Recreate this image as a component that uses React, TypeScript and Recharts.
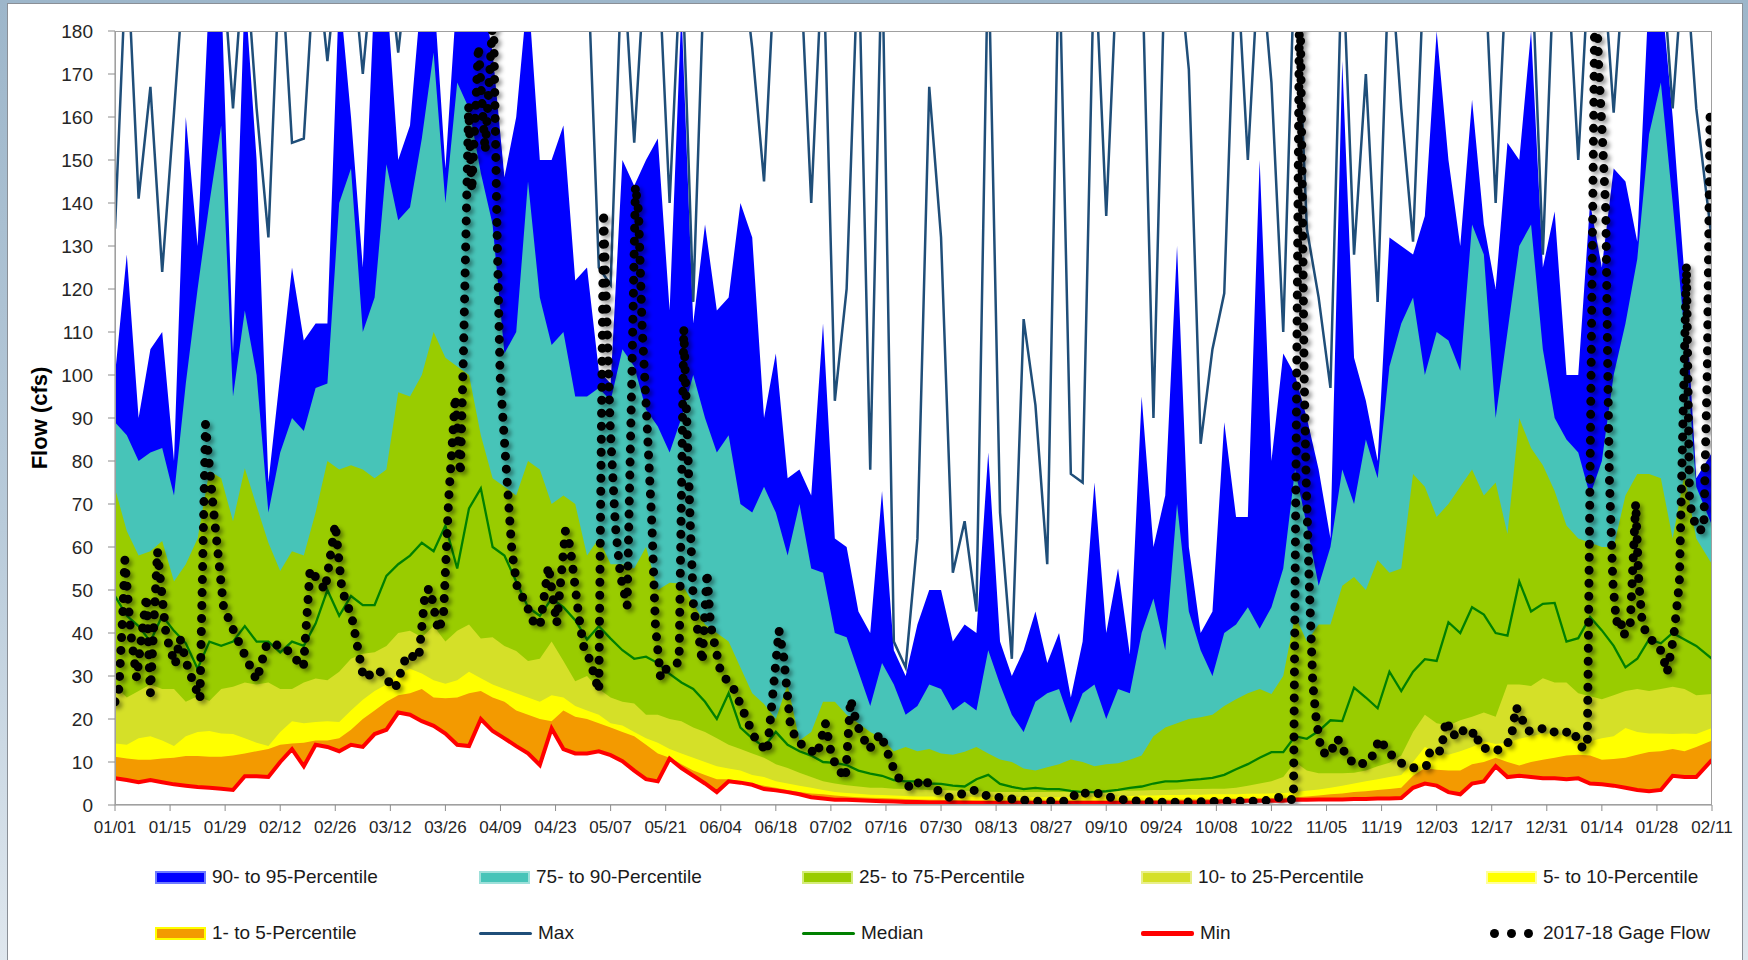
import React from "react";
import { Area, ComposedChart, Line, XAxis, YAxis } from "recharts";

// tick labels, one every 14 days from 01/01 to 02/11 of the next year
const xLabels = [
  "01/01", "01/15", "01/29", "02/12", "02/26", "03/12", "03/26", "04/09", "04/23", "05/07",
  "05/21", "06/04", "06/18", "07/02", "07/16", "07/30", "08/13", "08/27", "09/10", "09/24",
  "10/08", "10/22", "11/05", "11/19", "12/03", "12/17", "12/31", "01/14", "01/28", "02/11",
];
const yTicks = [0, 10, 20, 30, 40, 50, 60, 70, 80, 90, 100, 110, 120, 130, 140, 150, 160, 170, 180];

// percentile statistics, sampled every 3 days (day 0 .. 406)
const maxFlow = [
  134, 200, 141, 167, 124, 161, 200, 200, 200, 200,
  162, 200, 162, 132, 200, 154, 155, 200, 173, 200,
  200, 170, 200, 200, 175, 200, 200, 200, 200, 200,
  200, 200, 200, 200, 200, 200, 200, 200, 200, 200,
  200, 125, 121, 200, 154, 200, 200, 140, 200, 117,
  200, 200, 200, 200, 176, 145, 200, 200, 200, 140,
  200, 94, 120, 200, 78, 200, 38, 32, 62, 167,
  132, 54, 66, 45, 200, 68, 34, 113, 93, 56,
  200, 77, 75, 200, 137, 200, 200, 200, 90, 200,
  200, 171, 84, 106, 119, 200, 150, 200, 168, 110,
  200, 134, 118, 97, 200, 128, 170, 117, 200, 162,
  131, 200, 200, 200, 200, 200, 200, 140, 200, 200,
  200, 128, 200, 200, 150, 200, 200, 161, 200, 200,
  200, 200, 162, 200, 162, 131,
];
const p95 = [
  100, 128, 90, 106, 110, 80, 160, 130, 190, 190,
  105, 190, 150, 75, 100, 125, 108, 112, 112, 190,
  160, 125, 190, 190, 150, 158, 190, 190, 148, 190,
  190, 190, 175, 146, 160, 190, 150, 150, 158, 122,
  125, 101, 98, 150, 144, 150, 155, 115, 185, 112,
  135, 115, 118, 140, 132, 90, 105, 76, 78, 72,
  112, 62, 60, 45, 40, 73, 36, 30, 42, 50,
  50, 38, 42, 40, 82, 38, 30, 36, 45, 33,
  40, 25, 38, 75, 40, 55, 35, 95, 60, 72,
  130, 60, 40, 45, 89, 67, 67, 150, 80, 105,
  100, 90, 78, 62, 173, 104, 94, 80, 132, 130,
  128, 137, 180, 150, 130, 164, 135, 120, 154, 150,
  180, 125, 138, 100, 100, 140, 125, 148, 145, 131,
  190, 190, 160, 123, 76, 82,
];
const p90 = [
  89, 86, 80, 82, 83, 72, 98, 120, 140, 158,
  95, 115, 100, 68, 82, 90, 87, 97, 98, 140,
  148, 110, 118, 149, 136, 139, 155, 175, 140, 168,
  162, 147, 135, 105, 110, 145, 118, 107, 110, 95,
  95, 97, 94, 106, 102, 92, 88, 82, 90, 100,
  90, 82, 86, 70, 68, 74, 68, 58, 70, 55,
  54, 40, 39, 31, 23, 33, 28, 21, 23, 28,
  27, 22, 24, 22, 36, 28, 21, 17, 24, 26,
  27, 19, 26, 28, 20, 27, 26, 40, 48, 36,
  70, 45, 36, 30, 40, 42, 46, 41, 46, 55,
  78, 65, 51, 60, 78, 70, 85, 76, 102, 112,
  118, 100, 110, 108, 101, 135, 128, 90, 110, 130,
  135, 106, 90, 85, 82, 72, 80, 100, 112, 127,
  156, 168, 140, 110, 74, 65,
];
const p75 = [
  73.6, 63.7, 58, 59, 61.4, 52, 56, 62, 77.7, 76,
  66, 78.3, 69.5, 61, 54.4, 59, 58, 68, 80, 78,
  79, 78, 76, 78, 96, 95, 100, 110, 104, 102,
  100, 86, 76, 74, 72, 80, 78, 70, 72, 70,
  58, 62, 56, 56, 55, 60, 50, 51.7, 51.5, 47,
  42, 40, 38, 32, 26, 23.5, 20, 28, 15, 17,
  24, 24, 21, 19, 17, 15.5, 12.5, 13.5, 12.5, 13,
  12, 11.7, 12.4, 13.5, 12, 10.6, 10, 8.5, 8, 8.8,
  9.5, 10.6, 10, 9, 9.5, 9.7, 10.5, 11.5, 16, 18,
  19, 20, 20.4, 21, 23, 24.6, 26, 27, 25.8, 30,
  44, 38, 42, 42, 51, 53, 50, 57, 54, 55,
  77, 74, 67, 70, 74, 78, 72, 75, 63, 90,
  83, 79, 73, 65, 62, 61, 60, 60, 72, 77,
  77, 76, 62, 77, 62, 56,
];
const median = [
  48.6, 44, 41.6, 38, 44, 40.5, 37.6, 31.7, 38, 37,
  38, 41.6, 38, 38, 35.5, 38, 37, 42.2, 50, 44,
  48.6, 46.5, 46.5, 53.3, 56, 58, 61, 59, 65, 55,
  69, 73.6, 60, 58, 52, 46, 44, 48, 46, 43,
  38.5, 41.6, 38.7, 36, 34, 34.5, 33, 30.5, 28.5, 27,
  24, 20, 26, 18, 15.5, 13.5, 17, 14, 12.5, 11.5,
  10, 9.8, 9.3, 8, 7.3, 6.8, 5.8, 5.5, 5.5, 5,
  4.9, 4.5, 4.3, 6, 7, 4.9, 4.2, 3.7, 4, 3.7,
  3.7, 3.3, 3, 3, 3.2, 3.5, 4, 4.3, 5, 5.5,
  5.5, 5.8, 6, 6.3, 7, 8.3, 9.5, 11, 12.3, 12.3,
  16, 15.4, 17.2, 19.7, 19.5, 27.3, 25, 22.5, 31, 26.5,
  31, 33.9, 33.5, 42.5, 40, 46, 44.3, 40, 39.4, 52,
  45, 46.8, 47, 38, 38.8, 43.7, 40.6, 37, 32, 34,
  38.5, 37.6, 40, 38.5, 37, 34,
];
const p25 = [
  27.7, 25, 26.5, 28, 27, 27, 24, 25.3, 24.2, 27,
  27.5, 28.5, 28, 28.5, 27, 27, 28.5, 29.4, 29, 31,
  34, 35.2, 35.5, 37, 40, 40.5, 39, 41.6, 38, 40.5,
  42, 38.7, 39, 37, 35.8, 33.5, 34, 38, 33.5, 28.8,
  30, 27, 25, 24, 23.6, 21, 21, 20, 19.5, 18,
  17, 15.5, 14, 13, 12, 11, 9.5, 8.6, 7.5, 6.5,
  5.5, 5, 4.6, 4.3, 4, 4, 3.8, 3.7, 3.6, 3.5,
  3.5, 3.4, 3.3, 3.2, 3.1, 3, 3, 3, 3, 3,
  3, 3, 3.1, 3.2, 3.2, 3.3, 3.3, 3.4, 3.5, 3.5,
  3.6, 3.7, 3.7, 3.8, 3.8, 4, 4.5, 5, 5.5, 6.5,
  10, 8, 7.4, 7.4, 7.4, 7.5, 8, 9, 9.8, 11.5,
  17, 21, 19, 18.5, 19.7, 20.5, 21.5, 20.5, 28, 28,
  27.7, 29.5, 28.5, 28.5, 26, 25.3, 24.6, 25.5, 26.5, 27,
  26.5, 27, 27.5, 27, 25.5, 25.8,
];
const p10 = [
  14.3, 14, 15.5, 16, 15, 13.7, 16, 17, 17.2, 16.6,
  16.5, 15.5, 14.5, 13.7, 17, 19.5, 19, 19.3, 19.5, 19.3,
  22, 24.5, 26.5, 28, 30.5, 31.7, 30.6, 29, 28.2, 29,
  31, 29.5, 28, 27, 26, 25, 24, 25.5, 25, 23,
  22, 21, 19, 18.5, 17, 15.5, 14.5, 13, 12, 11,
  10, 9, 8.5, 8, 7, 6.5, 5.5, 5, 4.5, 4,
  3.5, 3, 2.8, 2.6, 2.4, 2.3, 2.2, 2.1, 2, 2,
  2, 2, 2, 1.9, 1.9, 1.9, 1.8, 1.8, 1.8, 1.8,
  1.8, 1.8, 1.9, 1.9, 2, 2, 2.1, 2.2, 2.2, 2.3,
  2.3, 2.4, 2.4, 2.5, 2.5, 2.5, 2.6, 2.6, 2.7, 2.8,
  3, 3.3, 3.6, 4, 4.5, 5, 5.5, 6, 6.5, 7,
  10, 13.5, 12.3, 11.7, 12.5, 13.5, 14.8, 14.2, 14.5, 15.4,
  16, 16.6, 16.6, 16, 15.5, 14.8, 15.5, 16, 17.9, 17,
  16.6, 16.6, 16.5, 16.6, 16.5, 17.9,
];
const p5 = [
  11.2, 10.8, 10.5, 10.5, 10.8, 11, 11.4, 11.4, 11.2, 11.2,
  11.5, 12, 12.5, 13, 14, 14.3, 14.5, 15, 15, 15.5,
  17.5, 20, 22, 24, 25.5, 26, 27, 25, 24.8, 25,
  26, 26.5, 25, 24, 22, 21, 20, 19.5, 22, 20.5,
  20, 19, 18, 17, 16, 14, 12, 11, 9.5, 8,
  7, 6, 6, 5.5, 5, 4.5, 4, 3.5, 3, 2.7,
  2.5, 2.2, 2, 1.8, 1.7, 1.6, 1.5, 1.4, 1.3, 1.2,
  1.2, 1.1, 1.1, 1, 1, 1, 1, 1, 1, 1,
  1, 1, 1, 1, 1, 1, 1, 1.1, 1.1, 1.2,
  1.2, 1.3, 1.3, 1.4, 1.4, 1.5, 1.5, 1.5, 1.6, 1.6,
  1.8, 2, 2.2, 2.5, 2.7, 3, 3.2, 3.5, 3.7, 4,
  6.8, 8.6, 8.2, 8, 8, 9.5, 10, 11, 10, 9.2,
  10, 10.5, 11, 11.5, 11.7, 11.5, 10.5, 10.7, 11, 11.7,
  12.3, 12.5, 13, 12.5, 13.5, 15,
];
const minFlow = [
  6.2, 5.8, 5.3, 5.8, 5.3, 4.8, 4.5, 4.2, 4, 3.8,
  3.5, 6.7, 6.7, 6.5, 10, 13, 9, 14, 13.5, 12.5,
  14, 13.5, 16.5, 17.5, 21.5, 21, 19.5, 18.4, 16.6, 14,
  13.7, 20, 17.2, 15.5, 13.7, 12, 9.3, 17.8, 13, 12,
  12, 12.5, 11.6, 10.2, 8, 6, 5.5, 10.8, 8.6, 6.8,
  5, 3, 5.5, 5.2, 4.7, 3.7, 3.4, 3, 2.5, 1.8,
  1.5, 1.2, 1.2, 1.1, 1, 0.9, 0.8, 0.7, 0.7, 0.6,
  0.6, 0.6, 0.5, 0.5, 0.5, 0.5, 0.5, 0.5, 0.5, 0.5,
  0.5, 0.5, 0.5, 0.5, 0.5, 0.5, 0.5, 0.5, 0.5, 0.5,
  0.5, 0.6, 0.6, 0.7, 0.8, 0.9, 1, 1, 1, 1,
  1.2, 1.2, 1.3, 1.3, 1.3, 1.4, 1.4, 1.5, 1.5, 1.6,
  4, 5, 4.5, 3, 2.5, 5, 5.5, 9, 6.5, 6.8,
  6.5, 6.2, 6.2, 6, 6.2, 5, 4.8, 4.5, 4, 3.5,
  3.2, 3.5, 6.8, 6.5, 6.5, 10.5,
];

// 2017-18 gage flow, read at its turning points
const gageDays = [
  0, 1, 2, 2.5, 4, 5.5, 8, 9, 10.8, 13, 15.3, 16.5, 18.7, 21.6, 23, 25, 27.6, 31, 36, 38.6,
  42.8, 47.9, 49.6, 53.4, 56, 57.7, 60.2, 63.2, 67, 71.2, 74.2, 77.2, 78.9, 80.1, 82.2, 83.5, 84.8, 86.5, 87.8, 88.6,
  89.9, 90.7, 92.4, 94.1, 96.2, 97.1, 97.9, 99.6, 100.9, 102.2, 104.7, 106.8, 108.1, 110.2, 112.3, 114.5, 115.7, 117.9, 119.1, 120.8,
  123, 124.2, 125.1, 125.9, 127.2, 128.5, 130.2, 131.4, 132.3, 133.1, 134, 135.3, 136.5, 137.4, 138.7, 140.4, 143.4, 144.6, 145.4, 146.3,
  147.1, 148.4, 149.3, 150.5, 151.4, 154, 157.3, 159, 160.7, 162.4, 165.8, 168.8, 170, 171.7, 173.4, 178.5, 180.6, 181.9, 183.2, 185.7,
  187, 188.7, 191.7, 194.6, 197.6, 199.3, 202.7, 205.3, 208.2, 212.1, 215.8, 218.4, 221.8, 229.8, 234.1, 242.6, 244.7, 248.1, 250.2, 254.1,
  258.3, 266.8, 283.8, 292.1, 296.1, 299.6, 301.2, 301.9, 302.3, 302.8, 303.6, 304.5, 305.4, 306.7, 309, 310.3, 311.6, 313, 316.1, 319.2,
  321.5, 323.7, 326.8, 330.4, 333.5, 334.4, 337.1, 338.4, 340.2, 341.9, 344.2, 346, 346.9, 350.9, 353.1, 354.9, 356.2, 357.5, 359.3, 363.7,
  366.8, 370.8, 372.5, 374.3, 376.3, 377.2, 378.1, 379, 379.5, 379.9, 380.8, 381.7, 382.6, 383.5, 385.2, 386.6, 387.4, 388.3, 389.7, 391.4,
  393.2, 394.6, 396.3, 397.7, 398.6, 399.5, 400.3, 402.1, 403.9, 404.8, 405.5, 406,
];
const gageFlow = [
  24, 27, 45, 57, 40, 29.5, 48.6, 26, 59, 39.4, 32.6, 38.8, 31.4, 24.6, 88.6, 69, 46, 38.8, 29, 37.5,
  37, 32, 54.8, 50, 65.3, 50, 43.7, 29.5, 31.4, 27, 35, 34, 49.8, 50.3, 40.5, 44, 70.7, 95, 77, 105.6,
  162.6, 142.8, 176.5, 152, 185, 134.7, 99.8, 76.5, 59, 51, 46.3, 41.6, 42, 55.6, 42.2, 63.7, 60.2, 44, 37, 33.5,
  26.5, 138, 111.4, 88, 65, 53.3, 46.3, 99.8, 144, 138, 111.4, 88, 65, 41.6, 29.5, 32, 33.2, 110.8, 88.6, 64,
  45.5, 39.4, 33.2, 54.2, 41.9, 30.8, 27, 23.4, 19.7, 16, 12.3, 40.6, 34.5, 18.5, 14.8, 11.7, 19, 12.9, 9.2, 6.2,
  24.6, 18.5, 12.9, 16.6, 9.2, 6.2, 3.7, 6.2, 3.9, 1.8, 2.7, 3.4, 2.1, 1.2, 0.9, 0.9, 3.1, 2.5, 2.7, 1.5,
  1, 0.6, 0.9, 0.9, 1.8, 1.2, 195, 138, 101, 76.3, 51.7, 28.3, 19.7, 12.3, 11.7, 15.4, 14.8, 11, 9.2, 10.5,
  15.4, 12.3, 9.8, 8.6, 9.2, 12.9, 12.5, 19.7, 16, 17.9, 16, 17.2, 13.5, 12.6, 13.3, 15.4, 22.8, 20.3, 17.2, 17.9,
  16.6, 17.2, 13.5, 13.5, 195, 172, 156, 138, 101, 76.3, 51.7, 42.5, 43.7, 39.4, 41.9, 70.2, 51.7, 41.9, 39.4, 37.6,
  35.7, 30.8, 39.4, 51.7, 88.6, 125.6, 70.2, 64, 64, 101, 160, 150,
];

type Row = { day: number; [key: string]: number };

const lastDay = 406;
const tickDays = xLabels.map((_, i) => i * 14);
const statDays = p95.map((_, i) => (i === p95.length - 1 ? lastDay : i * 3));

const rowsByDay = new Map<number, Row>();
statDays.forEach((day, i) => {
  rowsByDay.set(day, {
    day,
    max: maxFlow[i],
    p95: p95[i],
    p90: p90[i],
    p75: p75[i],
    median: median[i],
    p25: p25[i],
    p10: p10[i],
    p5: p5[i],
    min: minFlow[i],
  });
});
gageDays.forEach((day, i) => {
  const row = rowsByDay.get(day) ?? { day };
  row.gage = gageFlow[i];
  rowsByDay.set(day, row);
});
const chartData = [...rowsByDay.values()].sort((a, b) => a.day - b.day);

const FONT = "'Liberation Sans', Arial, sans-serif";

// drawn back to front; each band fills from 0 up to its percentile
const bands = [
  { key: "p95", color: "#0000FF" },
  { key: "p90", color: "#47C4B8" },
  { key: "p75", color: "#99CC00" },
  { key: "p25", color: "#D5E028" },
  { key: "p10", color: "#FFFF00" },
  { key: "p5", color: "#F39A00" },
  { key: "min", color: "#FFFFFF" },
];

const legendRows = [
  [
    { label: "90- to 95-Percentile", kind: "box", color: "#0000FF", border: "#6f7cff" },
    { label: "75- to 90-Percentile", kind: "box", color: "#47C4B8", border: "#9ee0da" },
    { label: "25- to 75-Percentile", kind: "box", color: "#99CC00", border: "#d4ec7a" },
    { label: "10- to 25-Percentile", kind: "box", color: "#D5E028", border: "#e8ef8a" },
    { label: "5- to 10-Percentile", kind: "box", color: "#FFFF00", border: "#ffff9a" },
  ],
  [
    { label: "1- to 5-Percentile", kind: "box", color: "#F39A00", border: "#FFFF00" },
    { label: "Max", kind: "line", color: "#1F4E79", width: 3 },
    { label: "Median", kind: "line", color: "#008000", width: 3 },
    { label: "Min", kind: "line", color: "#FF0000", width: 5 },
    { label: "2017-18 Gage Flow", kind: "dots", color: "#000000" },
  ],
];
const legendCols = [155, 479, 802, 1141, 1486];
const legendRowY = [877, 933];

function LegendMark({ item }: { item: any }) {
  if (item.kind === "box") {
    return (
      <span
        style={{
          display: "inline-block",
          width: 51,
          height: 13,
          boxSizing: "border-box",
          background: item.color,
          border: `2px solid ${item.border}`,
        }}
      />
    );
  }
  if (item.kind === "line") {
    return <span style={{ display: "inline-block", width: 53, height: item.width, background: item.color, borderRadius: 2 }} />;
  }
  return (
    <span style={{ display: "inline-flex", width: 51, justifyContent: "space-between", padding: "0 4px", boxSizing: "border-box" }}>
      {[0, 1, 2].map((k) => (
        <span key={k} style={{ width: 9, height: 9, borderRadius: "50%", background: item.color }} />
      ))}
    </span>
  );
}

export default function App() {
  return (
    <div
      style={{
        position: "absolute",
        left: 0,
        top: 0,
        width: 1748,
        height: 960,
        overflow: "hidden",
        background: "linear-gradient(180deg, #9db6ca 0%, #b9cbda 55%, #dfe7ee 100%)",
        fontFamily: FONT,
      }}
    >
      <div
        style={{
          position: "absolute",
          left: 7,
          top: 3,
          width: 1736,
          height: 980,
          background: "#ffffff",
          border: "1px solid #8a8f96",
          boxSizing: "border-box",
        }}
      />
      <div style={{ position: "absolute", left: 0, top: 0 }}>
        <ComposedChart width={1748} height={850} data={chartData} margin={{ top: 31, right: 36, bottom: 15, left: 20 }}>
          <defs>
            <filter id="gageShadow" x="-5%" y="-5%" width="110%" height="110%">
              <feDropShadow dx="3" dy="3" stdDeviation="2" floodColor="#000000" floodOpacity="0.4" />
            </filter>
          </defs>
          <XAxis
            dataKey="day"
            type="number"
            domain={[0, lastDay]}
            ticks={tickDays}
            interval={0}
            tickFormatter={(d: number) => xLabels[Math.round(d / 14)] ?? ""}
            height={30}
            tickSize={6}
            tickMargin={10}
            axisLine={{ stroke: "#8c8c8c" }}
            tickLine={{ stroke: "#8c8c8c" }}
            tick={{ fontSize: 17, fill: "#262626", fontFamily: FONT }}
            allowDataOverflow
          />
          <YAxis
            type="number"
            domain={[0, 180]}
            ticks={yTicks}
            interval={0}
            width={95}
            tickSize={7}
            tickMargin={15}
            axisLine={{ stroke: "#8c8c8c" }}
            tickLine={{ stroke: "#8c8c8c" }}
            tick={{ fontSize: 19, fill: "#262626", fontFamily: FONT }}
            allowDataOverflow
          />
          {bands.map((b) => (
            <Area
              key={b.key}
              type="linear"
              dataKey={b.key}
              stroke="none"
              fill={b.color}
              fillOpacity={1}
              connectNulls
              dot={false}
              activeDot={false}
              isAnimationActive={false}
            />
          ))}
          <Line type="linear" dataKey="max" stroke="#1F4E79" strokeWidth={2.5} dot={false} activeDot={false} connectNulls isAnimationActive={false} />
          <Line type="linear" dataKey="median" stroke="#008000" strokeWidth={2.3} dot={false} activeDot={false} connectNulls isAnimationActive={false} />
          <Line type="linear" dataKey="min" stroke="#FF0000" strokeWidth={4} dot={false} activeDot={false} connectNulls isAnimationActive={false} />
          <Line
            type="linear"
            dataKey="gage"
            stroke="#000000"
            strokeWidth={9}
            strokeDasharray="0 13"
            strokeLinecap="round"
            filter="url(#gageShadow)"
            dot={false}
            activeDot={false}
            connectNulls
            isAnimationActive={false}
          />
        </ComposedChart>
      </div>
      <div
        style={{
          position: "absolute",
          left: 115,
          top: 31,
          width: 1597,
          height: 774,
          border: "1px solid #a0a0a0",
          boxSizing: "border-box",
          pointerEvents: "none",
        }}
      />
      <div
        style={{
          position: "absolute",
          left: 40,
          top: 418,
          transform: "translate(-50%, -50%) rotate(-90deg)",
          fontSize: 22,
          fontWeight: "bold",
          color: "#000",
          whiteSpace: "nowrap",
        }}
      >
        Flow (cfs)
      </div>
      {legendRows.map((row, r) =>
        row.map((item, c) => (
          <div
            key={item.label}
            style={{
              position: "absolute",
              left: legendCols[c],
              top: legendRowY[r] - 12,
              height: 24,
              display: "flex",
              alignItems: "center",
              gap: 6,
              fontSize: 19,
              color: "#1a1a1a",
              whiteSpace: "nowrap",
            }}
          >
            <LegendMark item={item} />
            <span>{item.label}</span>
          </div>
        ))
      )}
    </div>
  );
}
